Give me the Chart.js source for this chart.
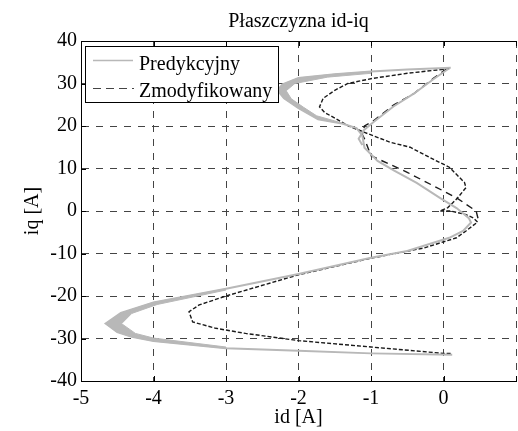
<!DOCTYPE html>
<html>
<head>
<meta charset="utf-8">
<script src="https://cdn.jsdelivr.net/npm/chart.js@4"></script>
<style>
  html, body { margin: 0; padding: 0; overflow: hidden; background: #fff; }
  #wrap { width: 522px; height: 431px; }
</style>
</head>
<body>
<div id="wrap"><canvas id="plot"></canvas></div>
<script>
const plotTitle = 'Płaszczyzna id-iq'
const xLabel = 'id [A]'
const yLabel = 'iq [A]'
const seriesNames = ['Predykcyjny', 'Zmodyfikowany']

// Predykcyjny (szary) - null przerywa linie
const predId = [0.08, -0.14, -0.41, -0.69, -0.96, -1.1, -1.17, -1.12, null,
  0.1, -0.5, -1.0, -1.5, -2.0, -2.22, -2.29, -2.2, -2.0, -1.73, -1.4, -1.2, -1.12, -1.09, -0.91, -0.68, -0.37, -0.05,
  0.18, 0.35, 0.38, 0.27, 0.08, -0.5, -1.0, -2.0, -3.0, -4.0, -4.45, -4.66, -4.5, -4.3, -4.0, -3.0, -2.0, -1.0, 0.12]
const predIq = [33.6, 31.0, 27.6, 24.6, 21.0, 19.0, 17.0, 15.5, null,
  33.7, 33.3, 32.8, 32.2, 31.3, 29.8, 28.4, 26.5, 24.2, 21.6, 20.6, 19.5, 17.8, 14.9, 11.8, 9.5, 6.6, 3.1,
  0.7, -1.7, -2.7, -4.7, -6.3, -9.4, -11.0, -14.8, -18.3, -21.5, -24.0, -26.5, -28.5, -29.6, -30.6, -32.3, -32.9, -33.5, -33.8]

// pogrubione pasma szarej krzywej na zakretach (obrys: krawedz zewnetrzna, potem wewnetrzna)
const bandTopId = [-1.0, -1.5, -2.0, -2.22, -2.29, -2.2, -2.0, -1.73, -1.4, -1.5, -1.75, -1.93, -2.1, -2.17, -2.05, -1.6, -1.0]
const bandTopIq = [32.8, 32.2, 31.3, 29.8, 28.4, 26.5, 24.2, 21.6, 20.6, 21.2, 22.4, 24.4, 26.4, 28.3, 30.0, 31.5, 32.4]
const bandBotId = [-3.0, -4.0, -4.45, -4.66, -4.5, -4.3, -4.0, -3.0, -3.0, -4.0, -4.25, -4.44, -4.3, -3.95, -3.0]
const bandBotIq = [-18.3, -21.5, -24.0, -26.5, -28.5, -29.6, -30.6, -32.3, -32.0, -29.9, -28.8, -26.5, -24.1, -22.0, -18.6]

// Zmodyfikowany (czarny, przerywany)
const modId = [0.08, -0.5, -0.98, -1.32, -1.5, -1.66, -1.71, -1.64, -1.32, -1.09, -0.74, -0.46, -0.19, 0.08, 0.29, 0.31,
  0.18, 0.06, -0.05, 0.1, 0.3, 0.41, 0.47, 0.31, 0.18, -0.27, -1.0, -2.0, -3.0, -3.37, -3.51, -3.46, -3.14, -2.73,
  -2.0, -1.0, 0.0, 0.1, null,
  0.05, -0.14, -0.41, -0.69, -0.96, -1.09, -1.12, -1.09, -1.0, -0.5, 0.0, 0.18, 0.45, 0.48]
const modIq = [33.5, 32.4, 31.2, 30.0, 28.4, 26.5, 24.5, 23.2, 20.1, 18.5, 16.2, 15.0, 12.6, 10.3, 6.7, 5.5,
  2.8, 0.8, 0.0, 0.0, -0.8, -1.6, -2.6, -4.7, -6.3, -8.7, -11.1, -15.0, -20.0, -22.1, -23.7, -26.1, -27.6, -28.8,
  -30.5, -32.0, -33.5, -33.5, null,
  33.5, 31.2, 27.6, 24.9, 21.3, 20.0, 18.0, 17.0, 13.0, 9.1, 4.7, 3.1, 0.0, -2.0]

const xTicks = [-5, -4, -3, -2, -1, 0, 1]
const yTicks = [-40, -30, -20, -10, 0, 10, 20, 30, 40]

const FONT = "'Liberation Serif', 'Times New Roman', serif"
const GRAY = '#b8b8b8'
const DARK = '#1a1a1a'

function pts(xs, ys) {
  return xs.map((x, i) => ({ x: x, y: ys[i] }))
}
const mainLen = modId.indexOf(null)

function band(xs, ys) {
  return {
    data: pts(xs, ys),
    showLine: true,
    fill: 'shape',
    backgroundColor: GRAY,
    borderColor: GRAY,
    borderWidth: 1,
    pointRadius: 0,
    tension: 0
  }
}

const frame = {
  id: 'frame',
  afterDraw(chart) {
    const ctx = chart.ctx
    const a = chart.chartArea
    const sx = chart.scales.x, sy = chart.scales.y
    ctx.save()
    ctx.strokeStyle = '#000'
    ctx.lineWidth = 1
    ctx.beginPath()
    ctx.moveTo(a.left, Math.round(a.top) + 0.5)
    ctx.lineTo(a.right, Math.round(a.top) + 0.5)
    for (const t of xTicks) {
      const px = Math.round(sx.getPixelForValue(t)) + 0.5
      ctx.moveTo(px, a.bottom); ctx.lineTo(px, a.bottom - 5)
      ctx.moveTo(px, a.top); ctx.lineTo(px, a.top + 5)
    }
    for (const t of yTicks) {
      const py = Math.round(sy.getPixelForValue(t)) + 0.5
      ctx.moveTo(a.left, py); ctx.lineTo(a.left + 5, py)
    }
    ctx.stroke()

    // tytul nad osiami
    ctx.fillStyle = '#000'
    ctx.font = '20px ' + FONT
    ctx.textAlign = 'center'
    ctx.textBaseline = 'alphabetic'
    ctx.fillText(plotTitle, (a.left + a.right) / 2, 27)

    // legenda w lewym gornym rogu
    ctx.fillStyle = '#fff'
    ctx.fillRect(85.5, 46.5, 193, 56)
    ctx.strokeStyle = '#000'
    ctx.strokeRect(85.5, 46.5, 193, 56)
    ctx.lineWidth = 1.5
    ctx.strokeStyle = GRAY
    ctx.beginPath(); ctx.moveTo(93, 60.5); ctx.lineTo(133, 60.5); ctx.stroke()
    ctx.lineWidth = 1
    ctx.strokeStyle = '#444'
    ctx.setLineDash([8, 5])
    ctx.beginPath(); ctx.moveTo(93, 88.5); ctx.lineTo(134, 88.5); ctx.stroke()
    ctx.setLineDash([])
    ctx.fillStyle = '#000'
    ctx.textAlign = 'left'
    ctx.fillText(seriesNames[0], 139, 69.5)
    ctx.fillText(seriesNames[1], 139, 96.5)
    ctx.restore()
  }
}

new Chart(document.getElementById('plot'), {
  type: 'scatter',
  data: {
    datasets: [
      {
        label: seriesNames[0],
        data: pts(predId, predIq),
        showLine: true,
        spanGaps: false,
        borderColor: GRAY,
        borderWidth: 2,
        pointRadius: 0,
        tension: 0
      },
      band(bandTopId, bandTopIq),
      band(bandBotId, bandBotIq),
      {
        label: seriesNames[1],
        data: pts(modId, modIq),
        showLine: true,
        spanGaps: false,
        borderColor: DARK,
        borderWidth: 1.4,
        pointRadius: 0,
        tension: 0,
        segment: {
          borderDash: ctx => ctx.p0DataIndex < mainLen ? [4, 2] : [7, 5]
        }
      }
    ]
  },
  options: {
    responsive: true,
    maintainAspectRatio: false,
    animation: false,
    layout: { padding: { top: 41, right: 2, left: 0, bottom: 0 } },
    plugins: {
      legend: { display: false },
      tooltip: { enabled: false },
      title: { display: false }
    },
    scales: {
      x: {
        type: 'linear',
        min: -5, max: 1,
        afterBuildTicks: s => { s.ticks = xTicks.map(v => ({ value: v })) },
        afterFit: s => { s.height = 50 },
        ticks: {
          color: '#000',
          font: { family: FONT, size: 20 },
          padding: 6,
          maxRotation: 0,
          autoSkip: false,
          callback: v => v === 1 ? '' : String(v)
        },
        grid: {
          color: '#444',
          lineWidth: 1,
          drawTicks: false
        },
        border: { display: true, color: '#000', width: 1, dash: [7, 7] },
        title: {
          display: true, text: xLabel, color: '#000',
          font: { family: FONT, size: 20, lineHeight: 1.2 },
          padding: { top: 0, bottom: 1.5 }
        }
      },
      y: {
        type: 'linear',
        min: -40, max: 40,
        afterBuildTicks: s => { s.ticks = yTicks.map(v => ({ value: v })) },
        afterFit: s => { s.width = 81 },
        ticks: {
          color: '#000',
          font: { family: FONT, size: 20 },
          padding: 4,
          autoSkip: false
        },
        grid: {
          color: '#444',
          lineWidth: 1,
          drawTicks: false
        },
        border: { display: true, color: '#000', width: 1, dash: [7, 7] },
        title: {
          display: true, text: yLabel, color: '#000',
          font: { family: FONT, size: 20, lineHeight: 1.2 },
          padding: { top: 21, bottom: 0 }
        }
      }
    }
  },
  plugins: [frame]
})
</script>
</body>
</html>
